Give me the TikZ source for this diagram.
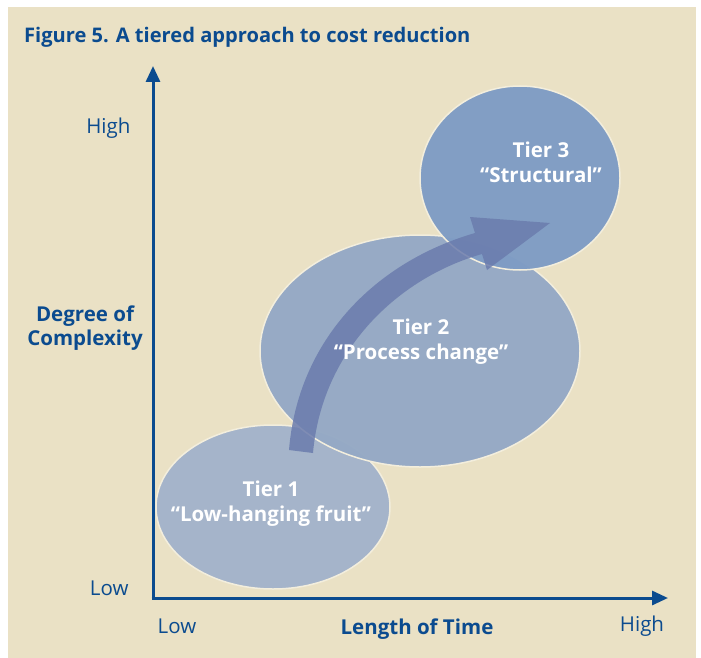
\documentclass[tikz,border=0pt]{standalone}
\usepackage{fontspec}
\setmainfont{Open Sans}
\usetikzlibrary{arrows.meta}
\definecolor{beige}{HTML}{EAE1C5}
\definecolor{navy}{HTML}{0B4B8F}
\definecolor{tone}{HTML}{A5B4CA}
\definecolor{ttwo}{HTML}{95A9C5}
\definecolor{tthree}{HTML}{7F9CC4}
\definecolor{rim}{HTML}{F3EEDD}
\definecolor{arrowblue}{HTML}{6B7CAD}
\tikzset{
  tier/.style={draw=rim, line width=1.5pt},
  tiertext/.style={text=white, font=\fontsize{20.5}{25}\selectfont\bfseries, align=center},
  axis/.style={draw=navy, line width=3pt, -{Triangle[length=16pt,width=14pt]}},
  axlabel/.style={text=navy, font=\fontsize{20.5}{24}\selectfont},
  axtitle/.style={text=navy, font=\fontsize{20.5}{24}\selectfont\bfseries, align=center}
}
\begin{document}
\begin{tikzpicture}[x=1pt,y=-1pt]
\useasboundingbox (0,0) rectangle (701,658);
\fill[white] (0,0) rectangle (701,658);
\fill[beige] (8,7) rectangle (696,658);
\node[anchor=base west, inner sep=0pt, text=navy, font=\fontsize{20.1}{24}\selectfont\bfseries] (title) at (24,43) {Figure 5. A tiered approach to cost reduction};
% ellipses
\path[tier, fill=tone] (273,507) ellipse [x radius=117, y radius=82];
\path[tier, fill=ttwo, fill opacity=0.97] (420,351) ellipse [x radius=160, y radius=116];
\path[tier, fill=tthree, fill opacity=0.97] (520,178) ellipse [x radius=100, y radius=92];
% curved arrow
\fill[arrowblue, fill opacity=0.85] (289,450) .. controls (298,340) and (375,262) .. (475,233)
  -- (470,217) -- (550,223) -- (487,270) -- (482,254)
  .. controls (398,278) and (322,350) .. (313,453) -- cycle;
% tier labels
\node[tiertext] (t3) at (541,162) {Tier 3\\“Structural”};
\node[tiertext] (t2) at (421,342) {Tier 2\\“Process change”};
\node[tiertext] (t1) at (271,504) {Tier 1\\“Low-hanging fruit”};
% axes
\coordinate (origin) at (153,598);
\coordinate (ytip) at (153,66);
\coordinate (xtip) at (668,598);
\draw[axis] (origin) -- (ytip);
\draw[axis] (origin.center) -- (xtip);
\draw[navy, line width=3pt] (151.5,598) -- (155,598);
% axis labels
\node[axlabel, anchor=east] (yhigh) at (134,128) {High};
\node[axlabel, anchor=east] (ylow) at (132,588) {Low};
\node[axtitle] (ytitle) at (85,328) {Degree of\\Complexity};
\node[axlabel] (xlow) at (177,626) {Low};
\node[axtitle] (xtitle) at (417,629) {Length of Time};
\node[axlabel] (xhigh) at (642,626) {High};
\end{tikzpicture}
\end{document}
